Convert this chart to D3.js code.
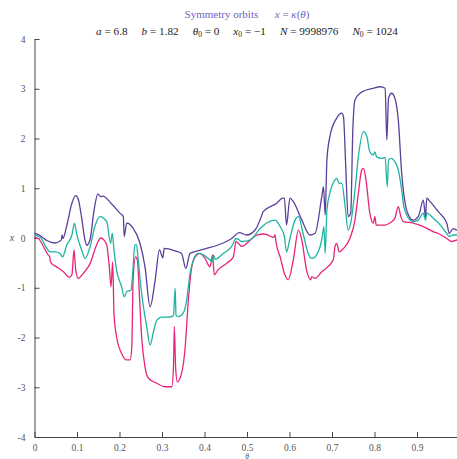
<!DOCTYPE html>
<html>
<head>
<meta charset="utf-8">
<script src="https://cdn.jsdelivr.net/npm/d3@7"></script>
<style>
  html, body { margin: 0; padding: 0; background: #fff; }
  svg { display: block; }
  text { font-family: "Liberation Serif", "DejaVu Serif", serif; }
</style>
</head>
<body>
<svg id="chart" width="457" height="459"></svg>
<script>
// Symmetry orbits: x = kappa(theta), three orbit families sampled on theta in [0, 1]

const xTicks = [0, 0.1, 0.2, 0.3, 0.4, 0.5, 0.6, 0.7, 0.8, 0.9];
const xTickLabels = ["0", "0.1", "0.2", "0.3", "0.4", "0.5", "0.6", "0.7", "0.8", "0.9"];
const yTicks = [-4, -3, -2, -1, 0, 1, 2, 3, 4];
const yTickLabels = ["-4", "-3", "-2", "-1", "0", "1", "2", "3", "4"];

// upper orbit (purple)
const purpleTheta = [0.000,0.013,0.029,0.048,0.060,0.063,0.065,0.067,0.076,0.088,0.097,0.103,0.111,0.119,0.123,0.131,0.140,0.149,0.156,0.161,0.180,0.201,0.209,0.211,0.217,0.232,0.248,0.260,0.272,0.284,0.294,0.302,0.305,0.331,0.346,0.356,0.366,0.397,0.444,0.464,0.482,0.499,0.519,0.535,0.538,0.570,0.584,0.588,0.593,0.601,0.609,0.629,0.648,0.660,0.676,0.680,0.684,0.688,0.695,0.711,0.723,0.727,0.732,0.738,0.744,0.749,0.754,0.766,0.797,0.813,0.825,0.829,0.833,0.840,0.848,0.856,0.864,0.872,0.884,0.891,0.903,0.915,0.920,0.923,0.931,0.950,0.970,0.976,0.985,0.994,1.000];
const purpleX = [0.10,0.05,-0.05,-0.10,-0.06,-0.04,0.06,-0.01,0.25,0.70,0.85,0.78,0.40,-0.05,-0.15,-0.02,0.55,0.88,0.83,0.84,0.70,0.50,0.43,0.03,0.30,0.20,-0.10,-0.58,-1.38,-0.84,-0.24,-0.40,-0.21,-0.26,-0.31,-0.61,-0.31,-0.23,-0.10,-0.01,0.11,0.06,0.16,0.46,0.53,0.70,0.80,0.80,0.26,0.80,0.73,0.36,0.06,0.09,0.83,1.03,0.46,1.57,2.04,2.41,2.51,2.44,1.51,0.43,0.50,2.17,2.77,2.91,3.01,3.04,3.01,1.97,2.81,2.91,2.81,2.37,1.30,0.70,0.40,0.36,0.43,0.76,0.43,0.80,0.73,0.53,0.30,0.09,0.19,0.16,0.15];

// middle orbit (teal)
const tealTheta = [0.000,0.013,0.029,0.036,0.048,0.060,0.066,0.076,0.088,0.094,0.099,0.111,0.119,0.131,0.142,0.154,0.170,0.179,0.183,0.187,0.193,0.205,0.211,0.217,0.227,0.232,0.236,0.240,0.244,0.252,0.264,0.272,0.280,0.288,0.299,0.311,0.323,0.327,0.331,0.333,0.338,0.350,0.358,0.366,0.374,0.385,0.397,0.413,0.419,0.421,0.425,0.444,0.464,0.474,0.480,0.488,0.507,0.531,0.546,0.566,0.578,0.588,0.593,0.601,0.613,0.621,0.632,0.644,0.652,0.660,0.676,0.681,0.684,0.688,0.695,0.707,0.711,0.717,0.723,0.731,0.738,0.744,0.754,0.762,0.774,0.782,0.789,0.797,0.801,0.805,0.817,0.825,0.830,0.833,0.840,0.848,0.856,0.864,0.869,0.880,0.891,0.903,0.915,0.920,0.923,0.938,0.958,0.970,0.976,0.985,0.994,1.000];
const tealX = [0.06,0.02,-0.21,-0.28,-0.28,-0.31,-0.38,-0.14,0.06,0.30,0.09,-0.24,-0.41,-0.17,0.23,0.43,0.33,-0.11,0.09,-0.24,-0.64,-0.98,-1.18,-1.08,-1.05,-0.58,-0.14,-0.14,-0.44,-1.11,-1.78,-2.15,-1.88,-1.65,-1.59,-1.59,-1.58,-1.55,-1.01,-1.55,-1.58,-1.51,-1.25,-0.71,-0.44,-0.31,-0.34,-0.44,-0.48,-0.34,-0.43,-0.31,-0.17,-0.01,-0.03,-0.07,-0.04,0.19,0.30,0.36,0.23,0.03,-0.28,-0.01,0.36,0.43,0.09,-0.31,-0.41,-0.38,-0.03,0.23,-0.31,0.56,0.90,1.17,1.20,1.10,1.10,0.63,0.16,0.30,0.96,1.63,2.14,2.04,1.73,1.67,1.73,1.63,1.60,1.62,1.03,1.57,1.60,1.53,1.37,0.96,0.63,0.40,0.33,0.36,0.50,0.36,0.50,0.40,0.23,0.09,0.03,0.06,0.06,0.05];

// lower orbit (pink)
const pinkTheta = [0.000,0.009,0.021,0.032,0.036,0.037,0.040,0.052,0.068,0.082,0.088,0.093,0.097,0.103,0.115,0.131,0.146,0.156,0.166,0.170,0.176,0.180,0.184,0.187,0.193,0.205,0.217,0.225,0.229,0.232,0.238,0.242,0.247,0.252,0.260,0.268,0.288,0.307,0.323,0.327,0.329,0.332,0.336,0.346,0.354,0.362,0.370,0.378,0.389,0.401,0.413,0.419,0.423,0.432,0.452,0.468,0.474,0.480,0.488,0.495,0.499,0.523,0.538,0.550,0.562,0.566,0.568,0.578,0.589,0.597,0.609,0.621,0.629,0.640,0.650,0.652,0.660,0.676,0.703,0.707,0.711,0.717,0.727,0.742,0.754,0.762,0.770,0.774,0.780,0.789,0.797,0.801,0.804,0.825,0.836,0.848,0.856,0.862,0.868,0.891,0.915,0.938,0.950,0.970,0.982,0.994,1.000];
const pinkX = [0.01,-0.01,-0.17,-0.34,-0.38,-0.46,-0.51,-0.58,-0.68,-0.79,-0.74,-0.24,-0.64,-0.81,-0.71,-0.51,-0.14,0.00,-0.07,-0.14,-0.58,-0.98,-0.48,-1.51,-1.98,-2.32,-2.45,-2.45,-2.18,-0.84,-0.38,-0.44,-1.18,-1.98,-2.59,-2.82,-2.92,-2.99,-2.99,-2.59,-1.78,-2.59,-2.89,-2.72,-2.25,-1.25,-0.58,-0.38,-0.31,-0.41,-0.58,-0.34,-0.74,-0.64,-0.51,-0.38,-0.07,-0.11,-0.17,-0.14,-0.11,0.06,0.08,0.06,0.01,0.06,-0.07,-0.38,-0.74,-0.84,-0.44,0.16,-0.04,-0.64,-0.84,-0.78,-0.81,-0.68,-0.44,-0.17,-0.11,-0.28,-0.21,-0.01,0.36,0.90,1.37,1.40,1.17,0.50,0.30,0.43,0.26,0.26,0.30,0.40,0.63,0.43,0.33,0.30,0.23,0.13,0.09,-0.01,-0.07,-0.04,-0.03];

const series = [
  { name: "pink",   theta: pinkTheta,   x: pinkX,   color: "#e8257b" },
  { name: "teal",   theta: tealTheta,   x: tealX,   color: "#1fb3a3" },
  { name: "purple", theta: purpleTheta, x: purpleX, color: "#5b3f9c" }
];

const svg = d3.select("#chart");
const plotLeft = 34.5, plotRight = 459.5, plotTop = 39, plotBottom = 437;

const xScale = d3.scaleLinear().domain([0, 1]).range([plotLeft, plotRight]);
const yScale = d3.scaleLinear().domain([-4, 4]).range([plotBottom, plotTop]);

// titles
svg.append("text")
  .attr("x", 247).attr("y", 18)
  .attr("text-anchor", "middle")
  .attr("font-size", 11)
  .attr("fill", "#7062c2")
  .html('Symmetry orbits\u2003\u2002<tspan font-style="italic">x</tspan> = <tspan font-style="italic">\u03BA</tspan>(<tspan font-style="italic">\u03B8</tspan>)');

svg.append("text")
  .attr("x", 247).attr("y", 35)
  .attr("text-anchor", "middle")
  .attr("font-size", 11.2)
  .attr("fill", "#222")
  .html('<tspan font-style="italic">a</tspan> = 6.8\u2003 <tspan font-style="italic">b</tspan> = 1.82\u2003 <tspan font-style="italic">\u03B8</tspan><tspan font-size="7.5" dy="2">0</tspan><tspan dy="-2"> = 0\u2003 </tspan><tspan font-style="italic">x</tspan><tspan font-size="7.5" dy="2">0</tspan><tspan dy="-2"> = \u22121\u2003 </tspan><tspan font-style="italic">N</tspan> = 9998976\u2003 <tspan font-style="italic">N</tspan><tspan font-size="7.5" dy="2">0</tspan><tspan dy="-2"> = 1024</tspan>');

// axes
const xAxis = d3.axisBottom(xScale)
  .tickValues(xTicks)
  .tickFormat((d, i) => xTickLabels[i])
  .tickSizeInner(-5).tickSizeOuter(0).tickPadding(7);
const yAxis = d3.axisLeft(yScale)
  .tickValues(yTicks)
  .tickFormat((d, i) => yTickLabels[i])
  .tickSizeInner(-5).tickSizeOuter(0).tickPadding(9);

const gx = svg.append("g").attr("transform", `translate(0,${plotBottom})`).call(xAxis);
const gy = svg.append("g").attr("transform", `translate(${plotLeft},0)`).call(yAxis);

[gx, gy].forEach(g => {
  g.select(".domain").attr("stroke", "#444").attr("stroke-width", 1);
  g.selectAll(".tick line").attr("stroke", "#444").attr("stroke-width", 1);
  g.selectAll(".tick text")
    .attr("fill", "#555")
    .attr("font-size", 9.5)
    .attr("font-family", "Liberation Serif, DejaVu Serif, serif");
});

// axis labels
svg.append("text")
  .attr("x", 12).attr("y", 241)
  .attr("text-anchor", "middle")
  .attr("font-size", 10)
  .attr("font-style", "italic")
  .attr("fill", "#555")
  .text("x");

svg.append("text")
  .attr("x", 247).attr("y", 458.5)
  .attr("text-anchor", "middle")
  .attr("font-size", 7.5)
  .attr("font-style", "italic")
  .attr("fill", "#555")
  .text("\u03B8");

// orbit curves
const line = d3.line()
  .x(d => xScale(d[0]))
  .y(d => yScale(d[1]))
  .curve(d3.curveMonotoneX);

svg.append("g").selectAll("path")
  .data(series)
  .join("path")
  .attr("d", s => line(s.theta.map((t, i) => [t, s.x[i]])))
  .attr("fill", "none")
  .attr("stroke", s => s.color)
  .attr("stroke-width", 1.3)
  .attr("stroke-linejoin", "round");
</script>
</body>
</html>
